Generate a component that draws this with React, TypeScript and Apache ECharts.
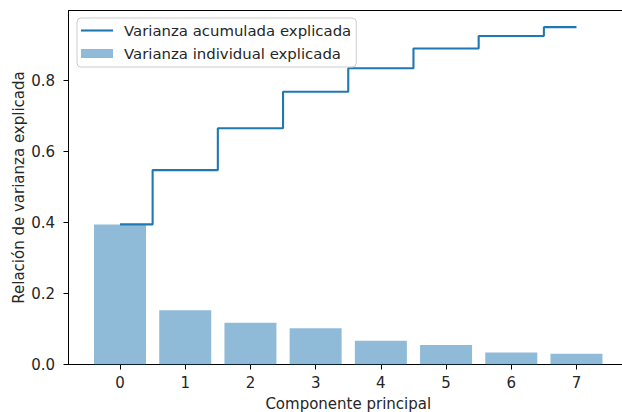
import React, { useEffect, useRef } from "react";
import * as echarts from "echarts";

const components = [0, 1, 2, 3, 4, 5, 6, 7];
const individualVariance = [0.395, 0.153, 0.118, 0.102, 0.067, 0.055, 0.034, 0.03];
const cumulativeVariance = [0.395, 0.548, 0.666, 0.769, 0.835, 0.891, 0.926, 0.951];
const yTickValues = [0, 0.2, 0.4, 0.6, 0.8];
const seriesNames = ["Varianza acumulada explicada", "Varianza individual explicada"];

const FONT = "DejaVu Sans";
const TEXT = "#262626";

export default function App() {
  const ref = useRef<HTMLDivElement>(null);
  useEffect(() => {
    if (!ref.current) return;
    const chart = echarts.init(ref.current, null, { renderer: "svg" });
    chart.setOption({
      animation: false,
      backgroundColor: "#ffffff",
      textStyle: { fontFamily: FONT },
      grid: {
        left: 68.5,
        right: 2,
        top: 10.5,
        bottom: 412 - 364.5,
        show: true,
        containLabel: false,
        outerBoundsMode: "none",
        borderColor: "#000",
        borderWidth: 1,
        backgroundColor: "transparent",
      },
      legend: {
        left: 77,
        top: 18,
        orient: "vertical",
        padding: [5, 5, 6, 4],
        itemGap: 8,
        itemWidth: 32,
        itemHeight: 9,
        backgroundColor: "rgba(255,255,255,0.8)",
        borderColor: "#cccccc",
        borderWidth: 1,
        borderRadius: 4,
        textStyle: { fontFamily: FONT, fontSize: 14.9, color: TEXT, padding: [0, 0, 0, 6] },
        data: [
          { name: seriesNames[0], icon: "path://M0,0H32V2.1H0Z" },
          { name: seriesNames[1], icon: "rect" },
        ],
      },
      xAxis: {
        type: "value",
        min: -0.79,
        max: 7.79,
        name: "Componente principal",
        nameLocation: "middle",
        nameGap: 31.5,
        nameTextStyle: { fontFamily: FONT, fontSize: 15, color: TEXT },
        axisLine: { show: true, onZero: false, lineStyle: { color: "#000", width: 1 } },
        axisTick: { show: true, length: 5, customValues: components, lineStyle: { color: "#000" } },
        axisLabel: {
          customValues: components,
          margin: 11,
          fontFamily: FONT,
          fontSize: 15,
          color: TEXT,
          formatter: (v: number) => String(Math.round(v)),
        },
        splitLine: { show: false },
      },
      yAxis: {
        type: "value",
        min: 0,
        max: 0.998,
        name: "Relación de varianza explicada",
        nameLocation: "middle",
        nameGap: 42.5,
        nameMoveOverlap: false,
        nameTextStyle: { fontFamily: FONT, fontSize: 15, color: TEXT },
        axisLine: { show: true, onZero: false, lineStyle: { color: "#000", width: 1 } },
        axisTick: { show: true, length: 5, customValues: yTickValues, lineStyle: { color: "#000" } },
        axisLabel: {
          customValues: yTickValues,
          margin: 13.5,
          fontFamily: FONT,
          fontSize: 15,
          color: TEXT,
          formatter: (v: number) => v.toFixed(1),
        },
        splitLine: { show: false },
      },
      series: [
        {
          name: seriesNames[1],
          type: "bar",
          data: components.map((c, i) => [c, individualVariance[i]]),
          barWidth: 52,
          itemStyle: { color: "rgba(31,119,180,0.5)" },
          z: 2,
        },
        {
          name: seriesNames[0],
          type: "line",
          step: "middle",
          data: components.map((c, i) => [c, cumulativeVariance[i]]),
          showSymbol: false,
          symbol: "none",
          lineStyle: { color: "#1f77b4", width: 2.1 },
          itemStyle: { color: "#1f77b4" },
          z: 3,
        },
      ],
    });
    return () => chart.dispose();
  }, []);
  return (
    <div
      style={{
        position: "absolute",
        left: 0,
        top: 0,
        width: 622,
        height: 412,
        overflow: "hidden",
        background: "#fff",
      }}
    >
      <div ref={ref} style={{ width: 630, height: 412 }} />
    </div>
  );
}
